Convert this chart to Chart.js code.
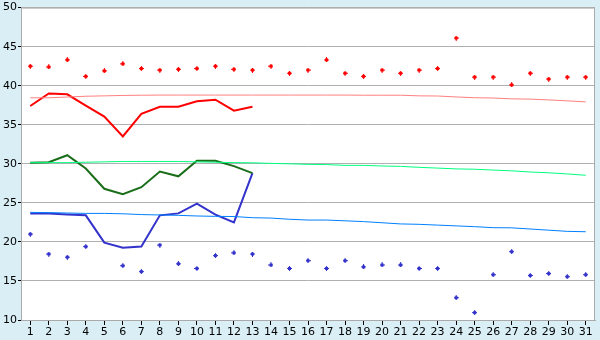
<!DOCTYPE html>
<html>
<head>
<meta charset="utf-8">
<script src="https://cdn.jsdelivr.net/npm/chart.js@4/dist/chart.umd.min.js"></script>
<style>
html,body{margin:0;padding:0;background:#d9eef5;}
#wrap{width:600px;height:340px;position:relative;}
</style>
</head>
<body>
<div id="wrap"><canvas id="c" width="600" height="340"></canvas></div>
<script>
const days = ["1","2","3","4","5","6","7","8","9","10","11","12","13","14","15","16","17","18","19","20","21","22","23","24","25","26","27","28","29","30","31"];
const yTicks = [10,15,20,25,30,35,40,45,50];

const redMarkers = [42.5,42.4,43.3,41.2,41.9,42.8,42.2,42.0,42.1,42.2,42.5,42.1,42.0,42.5,41.6,42.0,43.3,41.6,41.2,42.0,41.6,42.0,42.2,46.1,41.1,41.1,40.1,41.6,40.85,41.1,41.1];
const redLine = [37.4,39.0,38.9,37.45,36.05,33.5,36.4,37.3,37.3,38.0,38.2,36.8,37.3,null,null,null,null,null,null,null,null,null,null,null,null,null,null,null,null,null,null];
const redTrend = [38.45,38.45,38.55,38.65,38.7,38.75,38.78,38.8,38.8,38.8,38.8,38.8,38.8,38.8,38.8,38.8,38.8,38.8,38.78,38.78,38.78,38.7,38.68,38.56,38.46,38.42,38.32,38.28,38.18,38.06,37.93];
const greenLine = [30.15,30.2,31.1,29.4,26.8,26.1,27.0,29.0,28.4,30.4,30.4,29.7,28.8,null,null,null,null,null,null,null,null,null,null,null,null,null,null,null,null,null,null];
const greenTrend = [30.15,30.15,30.15,30.2,30.25,30.3,30.3,30.3,30.3,30.25,30.2,30.15,30.13,30.05,30.0,29.93,29.9,29.8,29.8,29.72,29.67,29.55,29.45,29.35,29.3,29.2,29.1,28.95,28.85,28.7,28.53];
const blueLine = [23.65,23.65,23.5,23.4,19.9,19.25,19.4,23.4,23.65,24.9,23.5,22.5,28.8,null,null,null,null,null,null,null,null,null,null,null,null,null,null,null,null,null,null];
const blueTrend = [23.78,23.75,23.7,23.65,23.65,23.6,23.5,23.45,23.4,23.32,23.27,23.25,23.1,23.05,22.9,22.8,22.8,22.7,22.6,22.45,22.3,22.25,22.15,22.05,21.95,21.82,21.8,21.65,21.5,21.35,21.3];
const blueMarkers = [21.0,18.45,18.05,19.4,null,16.95,16.2,19.6,17.2,16.6,18.25,18.6,18.45,17.05,16.6,17.6,16.6,17.6,16.8,17.05,17.05,16.6,16.6,12.85,10.95,15.8,18.75,15.7,15.95,15.55,15.8];

function markerCanvas(color){
  const cv = document.createElement('canvas');
  cv.width = 5; cv.height = 5;
  const g = cv.getContext('2d');
  g.fillStyle = color;
  g.fillRect(1,1,3,3);
  g.fillRect(2,0,1,5);
  g.fillRect(0,2,5,1);
  return cv;
}
const redMark = markerCanvas('#ff0000');
const blueMark = markerCanvas('#3333cc');

const bgPlugin = {
  id:'bg',
  beforeDraw(chart){
    const {ctx, chartArea:a} = chart;
    ctx.save();
    ctx.fillStyle = '#d9eef5';
    ctx.fillRect(0,0,chart.width,chart.height);
    ctx.fillStyle = '#ffffff';
    ctx.fillRect(a.left,a.top,a.right-a.left,a.bottom-a.top);
    ctx.restore();
  },
  afterDraw(chart){
    const {ctx, chartArea:a} = chart;
    ctx.save();
    ctx.strokeStyle = '#aaaaaa';
    ctx.lineWidth = 1;
    ctx.beginPath();
    ctx.moveTo(a.left, a.top+0.5);
    ctx.lineTo(a.right-0.5, a.top+0.5);
    ctx.lineTo(a.right-0.5, a.bottom);
    ctx.stroke();
    ctx.restore();
  }
};

Chart.defaults.font.family = "'DejaVu Sans', Verdana, sans-serif";
Chart.defaults.font.size = 11;
Chart.defaults.color = '#000000';

new Chart(document.getElementById('c'), {
  type:'line',
  data:{
    labels: days,
    datasets:[
      {data: redMarkers, showLine:false, pointStyle: redMark, pointRadius:3, borderColor:'#ff0000', backgroundColor:'#ff0000'},
      {data: blueMarkers, showLine:false, pointStyle: blueMark, pointRadius:3, borderColor:'#3333cc', backgroundColor:'#3333cc'},
      {data: redTrend, borderColor:'#ff8080', borderWidth:1, pointRadius:0, tension:0},
      {data: greenTrend, borderColor:'#00ff80', borderWidth:1, pointRadius:0, tension:0},
      {data: blueTrend, borderColor:'#0080ff', borderWidth:1, pointRadius:0, tension:0},
      {data: redLine, borderColor:'#ff0000', borderWidth:2, pointRadius:0, tension:0},
      {data: greenLine, borderColor:'#1a6e1a', borderWidth:2, pointRadius:0, tension:0},
      {data: blueLine, borderColor:'#3333cc', borderWidth:2, pointRadius:0, tension:0}
    ]
  },
  options:{
    responsive:false,
    animation:false,
    devicePixelRatio:1,
    layout:{padding:{left:0,right:5,top:5,bottom:0}},
    plugins:{legend:{display:false}, tooltip:{enabled:false}},
    scales:{
      x:{
        offset:true,
        grid:{display:true, drawOnChartArea:false, drawTicks:true, tickLength:5, color:'#000000', offset:false},
        border:{display:true, color:'#aaaaaa'},
        ticks:{autoSkip:false, maxRotation:0, minRotation:0, padding:1},
        afterFit(s){ s.height = 20; }
      },
      y:{
        min:10, max:50,
        afterBuildTicks(s){ s.ticks = yTicks.map(v=>({value:v})); },
        grid:{color:'#b0b0b0', tickLength:3, tickColor:'#000000'},
        border:{display:true, color:'#aaaaaa'},
        ticks:{padding:1},
        afterFit(s){ s.width = 21; }
      }
    }
  },
  plugins:[bgPlugin]
});
</script>
</body>
</html>
